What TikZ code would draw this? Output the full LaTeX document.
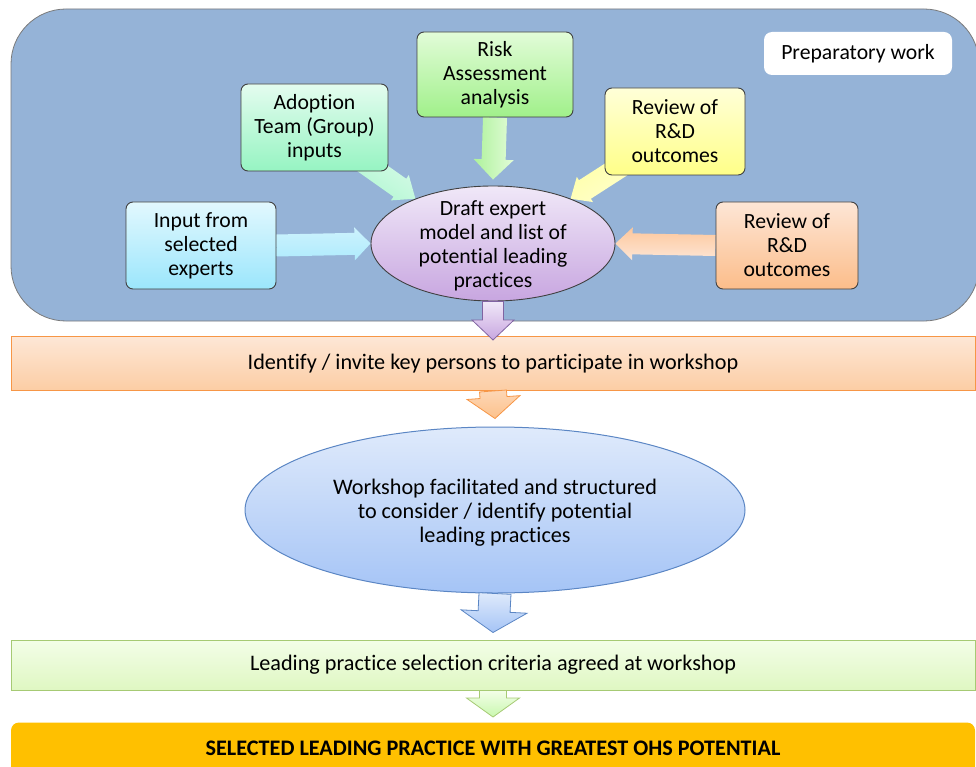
\documentclass[tikz,border=0pt]{standalone}
\usepackage{fontspec}
\setmainfont{Carlito}[Ligatures={NoCommon,NoContextual}, Contextuals=NoAlternate]
\usetikzlibrary{shapes.geometric,calc}

% palette
\definecolor{prepfill}{HTML}{95B3D7}
\definecolor{prepedge}{HTML}{7A7A7A}
\definecolor{boxedge}{HTML}{404040}
\definecolor{inpTop}{HTML}{E2F8FE}\definecolor{inpBot}{HTML}{9BE6FC}
\definecolor{adoTop}{HTML}{E4FCEF}\definecolor{adoBot}{HTML}{96F4C2}
\definecolor{rskTop}{HTML}{E2FCD8}\definecolor{rskBot}{HTML}{A0F08A}
\definecolor{yelTop}{HTML}{FFFFD8}\definecolor{yelBot}{HTML}{FFFF88}
\definecolor{orgTop}{HTML}{FDE6D6}\definecolor{orgBot}{HTML}{FCBD8A}
\definecolor{drfTop}{HTML}{F0E8F8}\definecolor{drfBot}{HTML}{C8A6E0}
\definecolor{wsTop}{HTML}{DFEAFB}\definecolor{wsBot}{HTML}{A5C4F6}
\definecolor{wsEdge}{HTML}{5B86C4}
\definecolor{idTop}{HTML}{FDE7D6}\definecolor{idBot}{HTML}{FCCDA4}
\definecolor{idEdge}{HTML}{F79646}
\definecolor{selTop}{HTML}{F3FEE8}\definecolor{selBot}{HTML}{DFF7C2}
\definecolor{selEdge}{HTML}{A6CA74}
\definecolor{finFill}{HTML}{FFC000}
\definecolor{purEdge}{HTML}{8064A2}

\newcommand{\diagfont}{\fontsize{21.7}{24}\selectfont}
\newcommand{\flowfont}{\fontsize{22.2}{24}\selectfont}

% block arrow: #1 options, #2 start, #3 tip, #4 shaft half width,
% #5 head half width, #6 head length
\newcommand{\blockarrow}[6]{%
  \coordinate (ba-h) at ($(#3)!#6!(#2)$);
  \path[#1] ($(#2)!#4!90:(#3)$) -- ($(ba-h)!#4!90:(#3)$)
    -- ($(ba-h)!#5!90:(#3)$) -- (#3)
    -- ($(ba-h)!#5!-90:(#3)$) -- ($(ba-h)!#4!-90:(#3)$)
    -- ($(#2)!#4!-90:(#3)$) -- cycle;}

\pgfdeclarelayer{bg}
\pgfdeclarelayer{arrows}
\pgfsetlayers{bg,arrows,main}

\tikzset{
  srcbox/.style={draw=boxedge, line width=0.9pt, rounded corners=7pt,
    align=center, font=\diagfont, inner sep=0pt},
  oval/.style={ellipse, inner sep=0pt},
  ovaltext/.style={align=center, inner sep=0pt},
  bar/.style={align=center, font=\flowfont, inner sep=0pt,
    minimum width=964pt, line width=1pt},
  flowarrow/.style={line width=0.8pt, line join=miter},
}

\begin{document}
\begin{tikzpicture}[x=1pt,y=-1pt]
\useasboundingbox (0,0) rectangle (976,767);

% preparatory stage panel
\begin{pgfonlayer}{bg}
\node (prepbg) [draw=prepedge, line width=0.8pt, fill=prepfill,
  rounded corners=55pt, minimum width=968pt, minimum height=312pt,
  inner sep=0pt] at (495,165) {};
\end{pgfonlayer}

\node (prep) [fill=white, rounded corners=8pt, minimum width=188pt,
  minimum height=43pt, font=\diagfont, inner sep=0pt] at (858,53.5)
  {Preparatory work};

% source boxes
\node (inp) [srcbox, top color=inpTop, bottom color=inpBot,
  minimum width=150pt, minimum height=87pt] at (201,245.5)
  {Input from\\selected\\experts};
\node (ado) [srcbox, top color=adoTop, bottom color=adoBot,
  minimum width=147pt, minimum height=87pt] at (314.5,127.5)
  {Adoption\\Team (Group)\\inputs};
\node (rsk) [srcbox, top color=rskTop, bottom color=rskBot,
  minimum width=156pt, minimum height=85pt] at (495,74.5)
  {Risk\\Assessment\\analysis};
\node (yel) [srcbox, top color=yelTop, bottom color=yelBot,
  minimum width=140pt, minimum height=87pt] at (675,131.5)
  {Review of\\R\&D\\outcomes};
\node (org) [srcbox, top color=orgTop, bottom color=orgBot,
  minimum width=142pt, minimum height=87pt] at (787,245.5)
  {Review of\\R\&D\\outcomes};

% draft model
\node (draft) [oval, draw=boxedge, line width=0.9pt,
  top color=drfTop, bottom color=drfBot,
  minimum width=244pt, minimum height=115pt] at (493,243.5) {};
\node (drafttxt) [ovaltext, font=\diagfont] at ([yshift=-2pt]draft.center)
  {Draft expert\\model and list of\\potential leading\\practices};

% main flow
\node (ident) [bar, draw=idEdge, top color=idTop, bottom color=idBot,
  minimum height=54pt] at (493,363.5)
  {Identify / invite key persons to participate in workshop};
\node (ws) [oval, draw=wsEdge, line width=1pt, top color=wsTop,
  bottom color=wsBot, minimum width=500pt, minimum height=166pt]
  at (495,510) {};
\node (wstxt) [ovaltext, font=\flowfont] at ([yshift=-2.5pt]ws.center)
  {Workshop facilitated and structured\\to consider / identify potential\\leading practices};
\node (sel) [bar, draw=selEdge, top color=selTop, bottom color=selBot,
  minimum height=50pt] at (493,665)
  {\raisebox{1.5pt}{Leading practice selection criteria agreed at workshop}};
\node (fin) [bar, fill=finFill, rounded corners=8pt, minimum height=52pt,
  font=\flowfont\bfseries, anchor=north] at (493,722)
  {\raisebox{1.5pt}{SELECTED LEADING PRACTICE WITH GREATEST OHS POTENTIAL}};

% arrows feeding the draft model
\coordinate (rsktip) at ([yshift=6pt]draft.north);
\begin{pgfonlayer}{arrows}
\blockarrow{shade, top color=inpTop!70!inpBot, bottom color=inpBot!80!white}
  {inp.east}{draft.west}{11pt}{16.5pt}{16pt}
\blockarrow{shade, top color=orgTop, bottom color=orgBot!85!white,
  shading angle=180}{org.west}{draft.east}{10.5pt}{16.5pt}{17pt}
\blockarrow{shade, top color=rskTop, bottom color=rskBot!85!white,
  shading angle=-90}{rsk.south}{rsktip}{12pt}{20pt}{20pt}
\blockarrow{shade, top color=adoTop, bottom color=adoBot!85!white,
  shading angle=-35}{ado.center}{draft.150}{11pt}{15.5pt}{19pt}
\blockarrow{shade, top color=yelTop, bottom color=yelBot!85!white,
  shading angle=213}{yel.center}{draft.30}{11pt}{15pt}{17pt}
\end{pgfonlayer}

% arrows along the main flow
\coordinate (t1) at ([yshift=-4pt]ident.north);
\coordinate (t2) at ([yshift=8pt]ws.north);
\coordinate (t3) at ([yshift=7pt]sel.north);
\coordinate (t4) at ([yshift=5pt]fin.north);
\blockarrow{flowarrow, draw=purEdge, top color=drfTop, bottom color=drfBot}
  {draft.south}{t1}{10.5pt}{21pt}{20pt}
\blockarrow{flowarrow, draw=idEdge, top color=idBot!80!white, bottom color=idBot!85!orange}
  {ident.south}{t2}{13.5pt}{26.5pt}{21pt}
\blockarrow{flowarrow, draw=wsEdge, top color=wsTop, bottom color=wsBot}
  {ws.south}{t3}{16pt}{33pt}{21pt}
\blockarrow{flowarrow, draw=selEdge, top color=selTop, bottom color=selBot!90!green}
  {sel.south}{t4}{13.5pt}{26.5pt}{19pt}
\end{tikzpicture}
\end{document}
